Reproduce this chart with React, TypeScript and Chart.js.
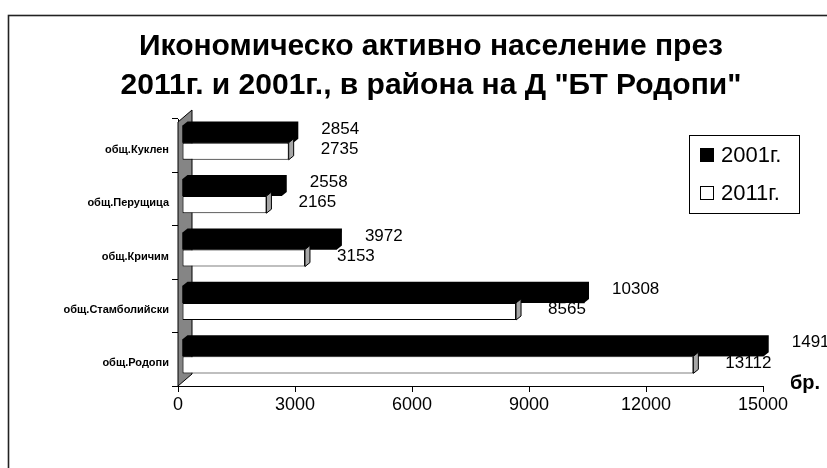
import React, { useEffect, useRef } from "react";
import { Chart, registerables } from "chart.js";

Chart.register(...registerables);

// ---- data ----
const categories = ["общ.Куклен", "общ.Перущица", "общ.Кричим", "общ.Стамболийски", "общ.Родопи"];
const seriesNames = ["2001г.", "2011г."];
const values2001 = [2854, 2558, 3972, 10308, 14916];
const values2011 = [2735, 2165, 3153, 8565, 13112];
const xTickValues = [0, 3000, 6000, 9000, 12000, 15000];
const titleLines = ["Икономическо активно население през", "2011г. и 2001г., в района на Д \"БТ Родопи\""];
const unitLabel = "бр.";

const FONT = "'Liberation Sans', Arial, sans-serif";

// projection of the bar plane (pseudo 3D)
const PLANE_DX = 4;
const PLANE_DY = -3;
const BAR_DX = 5;
const BAR_DY = -4;
const WALL_DX = 14;
const WALL_DY = -12;

const frameTitlePlugin = {
  id: "frameTitle",
  beforeDraw(chart: any) {
    const ctx = chart.ctx;
    ctx.save();
    ctx.fillStyle = "#fff";
    ctx.fillRect(0, 0, chart.width, chart.height);
    ctx.strokeStyle = "#222";
    ctx.lineWidth = 1.6;
    ctx.strokeRect(8.5, 15.5, 1000, 1000);
    ctx.restore();
  },
  afterDraw(chart: any) {
    const ctx = chart.ctx;
    ctx.save();
    ctx.fillStyle = "#000";
    ctx.textAlign = "center";
    ctx.textBaseline = "middle";
    ctx.font = `bold 30px ${FONT}`;
    ctx.fillText(titleLines[0], 431, 47);
    ctx.fillText(titleLines[1], 431, 86);

    // unit label
    ctx.textAlign = "left";
    ctx.font = `bold 20px ${FONT}`;
    ctx.fillText(unitLabel, 790, 383);

    // legend
    const lx = 689, ly = 135, lw = 110, lh = 78;
    ctx.fillStyle = "#fff";
    ctx.fillRect(lx, ly, lw, lh);
    ctx.strokeStyle = "#000";
    ctx.lineWidth = 1;
    ctx.strokeRect(lx + 0.5, ly + 0.5, lw, lh);
    ctx.font = `22px ${FONT}`;
    const rows = [155, 193];
    seriesNames.forEach((name, i) => {
      const y = rows[i];
      if (i === 0) {
        ctx.fillStyle = "#000";
        ctx.fillRect(700, y - 7, 14, 14);
      } else {
        ctx.fillStyle = "#fff";
        ctx.fillRect(700.5, y - 6.5, 13, 13);
        ctx.strokeRect(700.5, y - 6.5, 13, 13);
      }
      ctx.fillStyle = "#000";
      ctx.fillText(name, 721, y + 1);
    });
    ctx.restore();
  },
};

const depthPlugin = {
  id: "depth",
  beforeDatasetsDraw(chart: any) {
    const ctx = chart.ctx;
    const a = chart.chartArea;
    // side wall
    ctx.save();
    ctx.fillStyle = "#858585";
    ctx.strokeStyle = "#000";
    ctx.lineWidth = 1;
    ctx.beginPath();
    ctx.moveTo(a.left, a.top + 3);
    ctx.lineTo(a.left + WALL_DX, a.top + 3 + WALL_DY);
    ctx.lineTo(a.left + WALL_DX, a.bottom + WALL_DY);
    ctx.lineTo(a.left, a.bottom);
    ctx.closePath();
    ctx.fill();
    ctx.stroke();
    ctx.restore();
    ctx.save();
    ctx.translate(PLANE_DX, PLANE_DY);
  },
  afterDatasetsDraw(chart: any) {
    const ctx = chart.ctx;
    chart.data.datasets.forEach((ds: any, di: number) => {
      const meta = chart.getDatasetMeta(di);
      meta.data.forEach((el: any, i: number) => {
        const { x, y, base, height } = el.getProps(["x", "y", "base", "height"], true);
        const top = y - height / 2;
        const bottom = y + height / 2;
        if (di === 0) {
          // solid black prism: front, top and side faces
          ctx.fillStyle = "#000";
          ctx.beginPath();
          ctx.moveTo(base, bottom);
          ctx.lineTo(base, top);
          ctx.lineTo(base + BAR_DX, top + BAR_DY);
          ctx.lineTo(x + BAR_DX, top + BAR_DY);
          ctx.lineTo(x + BAR_DX, bottom + BAR_DY);
          ctx.lineTo(x, bottom);
          ctx.closePath();
          ctx.fill();
        } else {
          ctx.fillStyle = "#a6a6a6";
          ctx.strokeStyle = "#000";
          ctx.lineWidth = 1;
          ctx.beginPath();
          ctx.moveTo(x, top);
          ctx.lineTo(x + BAR_DX, top + BAR_DY);
          ctx.lineTo(x + BAR_DX, bottom + BAR_DY);
          ctx.lineTo(x, bottom);
          ctx.closePath();
          ctx.fill();
          ctx.stroke();
        }
        // value label
        ctx.fillStyle = "#000";
        ctx.font = `17px ${FONT}`;
        ctx.textAlign = "left";
        ctx.textBaseline = "middle";
        const v = ds.data[i];
        if (di === 0) ctx.fillText(String(v), x + 28, y - 5);
        else ctx.fillText(String(v), x + 32, y - 2);
      });
    });
    ctx.restore();
  },
};

export default function App() {
  const ref = useRef<HTMLCanvasElement>(null);
  useEffect(() => {
    Chart.defaults.font.family = FONT;
    const chart = new Chart(ref.current!, {
      type: "bar",
      data: {
        labels: categories,
        datasets: [
          {
            label: seriesNames[0],
            data: values2001,
            backgroundColor: "#000",
            borderWidth: 0,
            categoryPercentage: 0.64,
            barPercentage: 1.0,
            clip: false,
          },
          {
            label: seriesNames[1],
            data: values2011,
            backgroundColor: "#fff",
            borderColor: "#000",
            borderWidth: 1,
            borderSkipped: false,
            categoryPercentage: 0.64,
            barPercentage: 1.0,
            clip: false,
          },
        ],
      },
      options: {
        indexAxis: "y",
        responsive: false,
        animation: false,
        layout: { padding: { top: 119, right: 64, bottom: 0, left: 0 } },
        plugins: {
          legend: { display: false },
          title: { display: false },
          tooltip: { enabled: false },
        },
        scales: {
          x: {
            min: 0,
            max: 15000,
            afterBuildTicks(scale: any) {
              scale.ticks = xTickValues.map((v) => ({ value: v }));
            },
            afterFit(scale: any) {
              scale.height = 82;
            },
            ticks: {
              color: "#000",
              font: { size: 18 },
              padding: 2,
              maxRotation: 0,
              autoSkip: false,
              callback: (v: any) => String(v),
            },
            grid: { drawOnChartArea: false, drawTicks: true, tickLength: 6, color: "#000" },
            border: { display: true, color: "#000", width: 1 },
          },
          y: {
            afterFit(scale: any) {
              scale.width = 178;
            },
            ticks: {
              color: "#000",
              font: { size: 11, weight: "bold" },
              padding: 3,
              labelOffset: 4,
              autoSkip: false,
            },
            grid: { drawOnChartArea: false, drawTicks: true, tickLength: 6, color: "#000", offset: true },
            border: { display: true, color: "#000", width: 1 },
          },
        },
      },
      plugins: [frameTitlePlugin, depthPlugin],
    } as any);
    return () => chart.destroy();
  }, []);
  return (
    <div style={{ position: "fixed", left: 0, top: 0, width: 827, height: 468, background: "#fff" }}>
      <canvas ref={ref} width={827} height={468} style={{ display: "block", width: 827, height: 468 }} />
    </div>
  );
}
